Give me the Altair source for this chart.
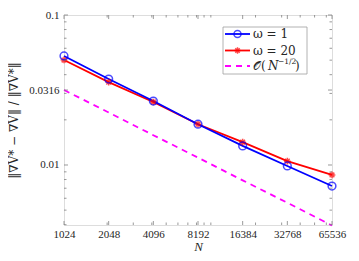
import altair as alt
import pandas as pd

N = [1024, 2048, 4096, 8192, 16384, 32768, 65536]
err_w1 = [0.0533, 0.0374, 0.0267, 0.0187, 0.0134, 0.00985, 0.00724]
err_w20 = [0.0501, 0.0357, 0.0263, 0.0187, 0.0142, 0.0106, 0.00858]
ref_rate = [0.0316, 0.0224, 0.0158, 0.0112, 0.0079, 0.0056, 0.00395]

x_ticks = [1024, 2048, 4096, 8192, 16384, 32768, 65536]
x_minor = [2000, 3000, 4000, 5000, 6000, 7000, 8000, 9000, 10000,
           20000, 30000, 40000, 50000, 60000]
y_major = [0.01, 0.0316, 0.1]
y_minor = [0.004, 0.005, 0.006, 0.007, 0.008, 0.009, 0.02, 0.03, 0.04,
           0.05, 0.06, 0.07, 0.08, 0.09]

legend_labels = ["ω = 1", "ω = 20", "𝒪("]
legend_n = "N"
legend_sup = "−1/2"
legend_colors = ["#0000ff", "#ff0000", "#ff00ff"]

FONT = "Liberation Serif, DejaVu Serif, serif"
MFONT = "DejaVu Serif, serif"
W, H = 268, 210
XD = [1024, 65536]
YD = [0.00398, 0.1]

xs = alt.Scale(type="log", base=2, domain=XD, nice=False)
ys = alt.Scale(type="log", domain=YD, nice=False)

df = pd.DataFrame({"N": N, "w1": err_w1, "w20": err_w20, "ref": ref_rate})

base = alt.Chart(df)

x_enc = alt.X("N:Q", scale=xs, title="N",
              axis=alt.Axis(values=x_ticks, format="d", domain=False, ticks=False,
                            labelFont=FONT, labelFontSize=11, labelColor="#262626",
                            labelPadding=3, titleFont=FONT, titleFontSize=13,
                            titleFontStyle="italic", titleFontWeight="normal",
                            titleColor="#262626", titleY=25, titleBaseline="alphabetic",
                            grid=False, labelFlush=False))

ref_line = base.mark_line(color="#ff00ff", strokeDash=[6, 5], strokeWidth=1.8).encode(
    x=x_enc,
    y=alt.Y("ref:Q", scale=ys,
            title="‖∇V* − ∇V̂‖ / ‖∇V*‖",
            axis=alt.Axis(values=y_major, domain=False, ticks=False, grid=False,
                          labelExpr="datum.value == 0.0316 ? '0.0316' : datum.value == 0.01 ? '0.01' : '0.1'",
                          labelFont=FONT, labelFontSize=11, labelColor="#262626",
                          labelPadding=5, titleFont=MFONT, titleFontSize=12,
                          titleFontWeight="normal", titleColor="#262626",
                          titlePadding=8)),
)

w20_line = base.mark_line(color="#ff0000", strokeWidth=1.8).encode(
    x=alt.X("N:Q", scale=xs), y=alt.Y("w20:Q", scale=ys))
w1_line = base.mark_line(color="#0000ff", strokeWidth=1.8).encode(
    x=alt.X("N:Q", scale=xs), y=alt.Y("w1:Q", scale=ys))

ASTER = "M-1,0L1,0M0,-1L0,1M-0.7,-0.7L0.7,0.7M-0.7,0.7L0.7,-0.7"
w1_pts = base.mark_point(shape="circle", filled=False, color="#0000ff",
                         size=60, strokeWidth=1.5).encode(
    x=alt.X("N:Q", scale=xs), y=alt.Y("w1:Q", scale=ys))
w20_pts = base.mark_point(shape=ASTER, filled=False, color="#ff0000",
                          size=45, strokeWidth=1.5).encode(
    x=alt.X("N:Q", scale=xs), y=alt.Y("w20:Q", scale=ys))

# inner ticks
xt = pd.DataFrame({"v": x_ticks})
xm = pd.DataFrame({"v": x_minor})
yt = pd.DataFrame({"v": y_major})
ym = pd.DataFrame({"v": y_minor})
TC = "#808080"

def xticks(d, L):
    b = alt.Chart(d).mark_rule(color=TC, strokeWidth=0.8)
    return (b.encode(x=alt.X("v:Q", scale=xs), y=alt.value(H), y2=alt.value(H - L)) +
            b.encode(x=alt.X("v:Q", scale=xs), y=alt.value(0), y2=alt.value(L)))

def yticks(d, L):
    b = alt.Chart(d).mark_rule(color=TC, strokeWidth=0.8)
    return (b.encode(y=alt.Y("v:Q", scale=ys), x=alt.value(0), x2=alt.value(L)) +
            b.encode(y=alt.Y("v:Q", scale=ys), x=alt.value(W), x2=alt.value(W - L)))

ticks = xticks(xt, 4) + xticks(xm, 2.5) + yticks(yt, 4) + yticks(ym, 2.5)

# legend
leg = pd.DataFrame({"label": legend_labels, "color": legend_colors, "i": [0, 1, 2]})
LX, LY, LW, LH = 159, 12, 84, 47
box = alt.Chart(pd.DataFrame({"a": [0]})).mark_rect(
    fill="white", stroke="#a0a0a0", strokeWidth=0.8).encode(
    x=alt.value(LX), x2=alt.value(LX + LW), y=alt.value(LY), y2=alt.value(LY + LH))

row_y = [19, 35.5, 51]
legend_layers = []
for i in range(3):
    d = leg.iloc[[i]]
    rule_kw = dict(color=legend_colors[i], strokeWidth=1.8)
    if i == 2:
        rule_kw["strokeDash"] = [6, 5]
    legend_layers.append(alt.Chart(d).mark_rule(**rule_kw).encode(
        x=alt.value(LX + 2), x2=alt.value(LX + 27), y=alt.value(row_y[i])))
    if i == 0:
        legend_layers.append(alt.Chart(d).mark_point(
            shape="circle", filled=False, color="#0000ff", size=50, strokeWidth=1.5).encode(
            x=alt.value(LX + 14.5), y=alt.value(row_y[i])))
    if i == 1:
        legend_layers.append(alt.Chart(d).mark_point(
            shape=ASTER, filled=False, color="#ff0000", size=40, strokeWidth=1.5).encode(
            x=alt.value(LX + 14.5), y=alt.value(row_y[i])))
    legend_layers.append(alt.Chart(d).mark_text(
        align="left", baseline="middle", font=MFONT, fontSize=12,
        color="#262626").encode(
        x=alt.value(LX + 30), y=alt.value(row_y[i]), text="label:N"))

sup_df = pd.DataFrame({"n": [legend_n], "t": [legend_sup], "c": [")"]})
legend_layers.append(alt.Chart(sup_df).mark_text(
    align="left", baseline="middle", font=MFONT, fontSize=12, fontStyle="italic",
    color="#262626").encode(
    x=alt.value(LX + 45), y=alt.value(row_y[2]), text="n:N"))
legend_layers.append(alt.Chart(sup_df).mark_text(
    align="left", baseline="middle", font=MFONT, fontSize=7.5, color="#262626").encode(
    x=alt.value(LX + 55), y=alt.value(row_y[2] - 4), text="t:N"))
legend_layers.append(alt.Chart(sup_df).mark_text(
    align="left", baseline="middle", font=MFONT, fontSize=12, color="#262626").encode(
    x=alt.value(LX + 72), y=alt.value(row_y[2]), text="c:N"))

chart = alt.layer(
    ref_line, w20_line, w1_line, w20_pts, w1_pts, ticks, box, *legend_layers
).properties(
    width=W, height=H,
    autosize=alt.AutoSizeParams(type="none"),
    padding={"left": 56, "top": 7, "right": 19, "bottom": 28},
).configure_view(stroke="#a6a6a6", strokeWidth=1).configure(background="white")

chart.save("out.html", embed_options={"renderer": "svg", "actions": False})
